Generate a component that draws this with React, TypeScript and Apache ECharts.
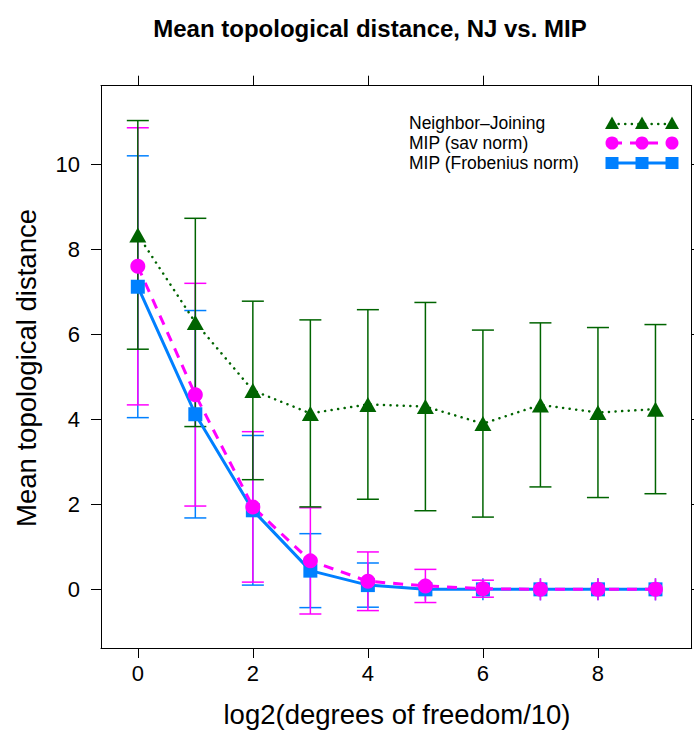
import React, { useEffect, useRef } from "react";
import * as echarts from "echarts";

const xValues = [0, 1, 2, 3, 4, 5, 6, 7, 8, 9];
const njMean = [8.34, 6.28, 4.68, 4.14, 4.35, 4.3, 3.9, 4.34, 4.16, 4.24];
const njSd = [2.69, 2.45, 2.1, 2.2, 2.23, 2.45, 2.2, 1.93, 2.0, 1.99];
const savMean = [7.6, 4.58, 1.94, 0.67, 0.19, 0.08, 0.015, 0, 0, 0];
const savSd = [3.26, 2.62, 1.77, 1.25, 0.69, 0.39, 0.2, 0, 0, 0];
const frobMean = [7.12, 4.12, 1.86, 0.44, 0.1, 0, 0, 0, 0, 0];
const frobSd = [3.08, 2.44, 1.76, 0.87, 0.52, 0, 0, 0, 0, 0];
const xTicks = [0, 2, 4, 6, 8];
const yTicks = [0, 2, 4, 6, 8, 10];
const legendNames = ["Neighbor\u2013Joining", "MIP (sav norm)", "MIP (Frobenius norm)"];

const GREEN = "#006400";
const MAGENTA = "#ff00ff";
const BLUE = "#0080ff";
const FONT = "'Liberation Sans', Arial, Helvetica, sans-serif";

function errSeries(mean: number[], sd: number[], color: string) {
  return {
    type: "custom",
    data: xValues.map((x, i) => [x, mean[i], sd[i]]),
    encode: { x: 0, y: 1 },
    clip: false,
    z: 2,
    renderItem: (params: any, api: any) => {
      const x = api.value(0);
      const m = api.value(1);
      const s = api.value(2);
      const c = api.coord([x, m]);
      const st = { stroke: color, lineWidth: 1.5, fill: "none" };
      const children: any[] = [];
      if (s > 0) {
        const top = api.coord([x, m + s])[1];
        const bot = api.coord([x, m - s])[1];
        children.push({ type: "line", shape: { x1: c[0], y1: top, x2: c[0], y2: bot }, style: st });
        children.push({ type: "line", shape: { x1: c[0] - 11, y1: top, x2: c[0] + 11, y2: top }, style: st });
        children.push({ type: "line", shape: { x1: c[0] - 11, y1: bot, x2: c[0] + 11, y2: bot }, style: st });
      } else {
        children.push({ type: "line", shape: { x1: c[0], y1: c[1] - 11, x2: c[0], y2: c[1] + 11 }, style: st });
      }
      return { type: "group", children };
    },
  };
}

function lineSeries(name: string, mean: number[], color: string, lineStyle: any, symbol: string, symbolSize: any) {
  return {
    type: "line",
    name,
    data: xValues.map((x, i) => [x, mean[i]]),
    symbol,
    symbolSize,
    showAllSymbol: true,
    itemStyle: { color, opacity: 1 },
    lineStyle: { color, ...lineStyle },
    z: 3,
  };
}

export default function App() {
  const ref = useRef<HTMLDivElement>(null);
  useEffect(() => {
    if (!ref.current) return;
    const chart = echarts.init(ref.current, undefined, { renderer: "svg" });
    const axisCommon = {
      type: "value",
      axisLine: { show: true, onZero: false, lineStyle: { color: "#000", width: 1 } },
      axisTick: { show: true, inside: false, length: 10, lineStyle: { color: "#000", width: 1 } },
      splitLine: { show: false },
    };
    const lx = 409;
    const rowY = [123, 143, 163];
    const symX = [612, 642, 672];
    const graphic: any[] = [
      {
        type: "text",
        x: 370,
        y: 28,
        style: {
          text: "Mean topological distance, NJ vs. MIP",
          font: `bold 24px ${FONT}`,
          fill: "#000",
          textAlign: "center",
          textVerticalAlign: "middle",
          align: "center",
          verticalAlign: "middle",
        },
      },
      {
        type: "text",
        x: 397,
        y: 714,
        style: {
          text: "log2(degrees of freedom/10)",
          font: `27.5px ${FONT}`,
          fill: "#000",
          textAlign: "center",
          textVerticalAlign: "middle",
          align: "center",
          verticalAlign: "middle",
        },
      },
      {
        type: "text",
        x: 26,
        y: 368,
        rotation: Math.PI / 2,
        style: {
          text: "Mean topological distance",
          font: `27.5px ${FONT}`,
          fill: "#000",
          textAlign: "center",
          textVerticalAlign: "middle",
          align: "center",
          verticalAlign: "middle",
        },
      },
    ];
    legendNames.forEach((t, i) => {
      graphic.push({
        type: "text",
        x: lx,
        y: rowY[i],
        style: {
          text: t,
          font: `17.5px ${FONT}`,
          fill: "#000",
          textAlign: "left",
          textVerticalAlign: "middle",
          align: "left",
          verticalAlign: "middle",
        },
      });
    });
    graphic.push({
      type: "line",
      shape: { x1: symX[0], y1: rowY[0] + 1, x2: symX[2], y2: rowY[0] + 1 },
      style: { stroke: GREEN, lineWidth: 2.5, lineDash: [0.1, 6.5], lineCap: "round" },
    });
    graphic.push({
      type: "line",
      shape: { x1: symX[0], y1: rowY[1], x2: symX[2], y2: rowY[1] },
      style: { stroke: MAGENTA, lineWidth: 3, lineDash: [10, 8] },
    });
    graphic.push({
      type: "line",
      shape: { x1: symX[0], y1: rowY[2], x2: symX[2], y2: rowY[2] },
      style: { stroke: BLUE, lineWidth: 3 },
    });
    symX.forEach((sx) => {
      graphic.push({
        type: "polygon",
        shape: { points: [[sx - 7, rowY[0] + 6], [sx + 7, rowY[0] + 6], [sx, rowY[0] - 6.5]] },
        style: { fill: GREEN },
      });
      graphic.push({ type: "circle", shape: { cx: sx, cy: rowY[1], r: 6.5 }, style: { fill: MAGENTA } });
      graphic.push({ type: "rect", shape: { x: sx - 6.5, y: rowY[2] - 6, width: 13, height: 12 }, style: { fill: BLUE } });
    });

    chart.setOption({
      animation: false,
      backgroundColor: "#fff",
      textStyle: { fontFamily: FONT },
      grid: { left: 101, right: 2.3, top: 85.7, bottom: 86, containLabel: false },
      xAxis: [
        {
          ...axisCommon,
          position: "bottom",
          min: -0.64,
          max: 9.63,
          axisTick: { ...axisCommon.axisTick, customValues: xTicks },
          axisLabel: { show: true, customValues: xTicks, fontSize: 22, color: "#000", fontFamily: FONT, margin: 14 },
        },
        {
          ...axisCommon,
          position: "top",
          min: -0.64,
          max: 9.63,
          axisTick: { ...axisCommon.axisTick, customValues: xTicks },
          axisLabel: { show: false, customValues: xTicks },
        },
      ],
      yAxis: [
        {
          ...axisCommon,
          position: "left",
          min: -1.38,
          max: 11.85,
          axisTick: { ...axisCommon.axisTick, customValues: yTicks },
          axisLabel: { show: true, customValues: yTicks, fontSize: 22, color: "#000", fontFamily: FONT, margin: 21 },
        },
        {
          ...axisCommon,
          position: "right",
          min: -1.38,
          max: 11.85,
          axisTick: { ...axisCommon.axisTick, customValues: yTicks },
          axisLabel: { show: false, customValues: yTicks },
        },
      ],
      series: [
        errSeries(frobMean, frobSd, BLUE),
        errSeries(savMean, savSd, MAGENTA),
        errSeries(njMean, njSd, GREEN),
        lineSeries(legendNames[2], frobMean, BLUE, { width: 3, type: "solid" }, "rect", 14),
        lineSeries(legendNames[1], savMean, MAGENTA, { width: 3, type: [10, 8] }, "circle", 15),
        lineSeries(legendNames[0], njMean, GREEN, { width: 2.5, type: [0.1, 6.5], cap: "round" }, "triangle", [17, 15]),
      ],
      graphic,
    });
    return () => chart.dispose();
  }, []);
  return <div ref={ref} style={{ position: "fixed", left: 0, top: 0, width: 694, height: 734 }} />;
}
